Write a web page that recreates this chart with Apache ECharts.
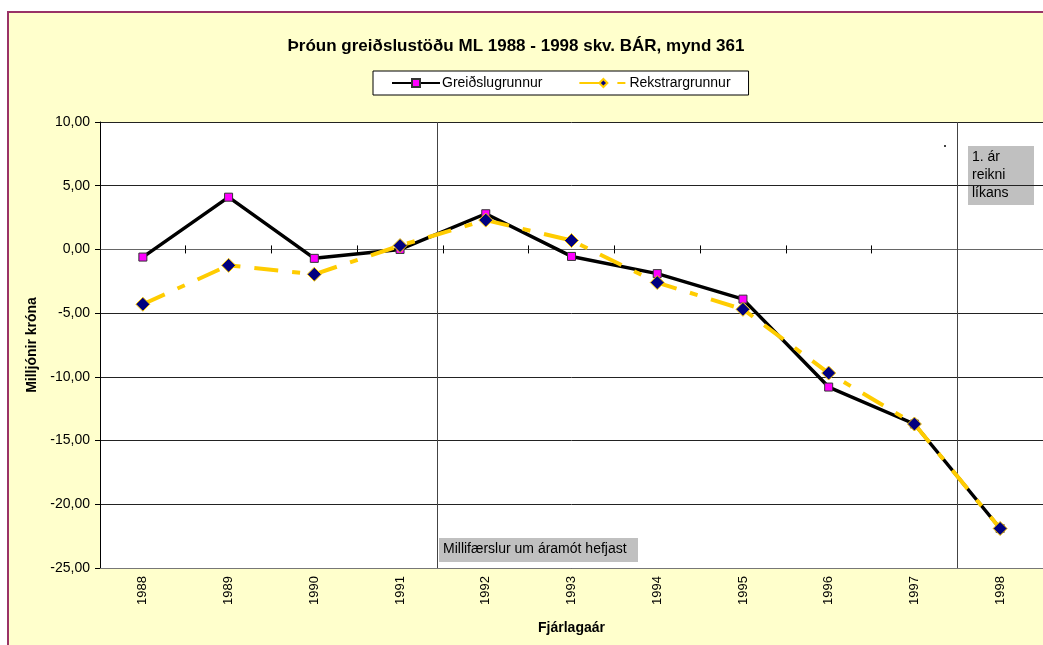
<!DOCTYPE html>
<html>
<head>
<meta charset="utf-8">
<script src="https://cdn.jsdelivr.net/npm/echarts@6/dist/echarts.min.js"></script>
<style>
html,body{margin:0;padding:0;background:#fff;}
#chart{width:1043px;height:645px;}
</style>
</head>
<body>
<div id="chart"></div>
<script>
const categories = ['1988','1989','1990','1991','1992','1993','1994','1995','1996','1997','1998'];
const greidslugrunnur = [-0.6, 4.1, -0.7, 0.0, 2.8, -0.55, -1.9, -3.9, -10.8, -13.7, -21.9];
const rekstrargrunnur = [-4.3, -1.25, -1.95, 0.3, 2.3, 0.7, -2.6, -4.7, -9.7, -13.7, -21.9];
const yTicks = {min: -25, max: 10, interval: 5};
const dividerPositions = [3.43, 9.5];
const titleText = 'Þróun greiðslustöðu ML 1988 - 1998 skv. BÁR, mynd 361';
const note1 = 'Millifærslur um áramót hefjast';
const note2 = '1. ár\nreikni\nlíkans';

const FONT = 'Liberation Sans, Arial, sans-serif';
const chart = echarts.init(document.getElementById('chart'), null, {renderer: 'canvas'});

chart.setOption({
  animation: false,
  backgroundColor: '#ffffff',
  textStyle: {fontFamily: FONT},
  title: {
    text: titleText,
    left: 511, top: 33, textAlign: 'center',
    textStyle: {fontSize: 17, fontWeight: 'bold', color: '#000', fontFamily: FONT}
  },
  legend: {
    left: 373, top: 71,
    backgroundColor: '#ffffff', borderColor: '#000', borderWidth: 1,
    padding: [5, 18, 5, 18],
    itemGap: 36, itemWidth: 48, itemHeight: 10,
    textStyle: {fontSize: 14, color: '#000', fontFamily: FONT, padding: [0, 0, 0, -3]},
    data: ['Greiðslugrunnur', 'Rekstrargrunnur']
  },
  grid: {left: 100, right: 0, top: 122, bottom: 77, show: true, backgroundColor: '#ffffff', borderWidth: 0},
  xAxis: [
    {
      type: 'category', data: categories, position: 'bottom',
      name: 'Fjárlagaár', nameLocation: 'middle', nameGap: 53,
      nameTextStyle: {fontSize: 14, fontWeight: 'bold', color: '#000', fontFamily: FONT},
      axisLine: {onZero: false, lineStyle: {color: '#777', width: 1}},
      axisTick: {show: false},
      axisLabel: {rotate: 90, fontSize: 13, color: '#000', margin: 8, fontFamily: FONT},
      splitLine: {show: false}
    },
    {
      type: 'category', data: categories, position: 'bottom',
      axisLine: {onZero: true, onZeroAxisIndex: 0, lineStyle: {color: '#666', width: 1}},
      axisTick: {show: true, length: 4, lineStyle: {color: '#000'}},
      axisLabel: {show: false}
    },
    {
      type: 'category', data: categories, position: 'bottom',
      axisLine: {onZero: true, onZeroAxisIndex: 0, show: false},
      axisTick: {show: true, inside: true, length: 4, lineStyle: {color: '#000'}},
      axisLabel: {show: false}
    },
    {
      type: 'value', min: -0.5, max: 10.5, show: false
    }
  ],
  yAxis: {
    type: 'value', min: yTicks.min, max: yTicks.max, interval: yTicks.interval,
    name: 'Milljónir króna', nameLocation: 'middle', nameRotate: 90, nameGap: 61,
    nameTextStyle: {fontSize: 14, fontWeight: 'bold', color: '#000', fontFamily: FONT},
    axisLine: {show: true, onZero: false, lineStyle: {color: '#000', width: 1}},
    axisTick: {show: true, length: 5, lineStyle: {color: '#000'}},
    axisLabel: {
      fontSize: 14, color: '#000', margin: 10, fontFamily: FONT,
      formatter: v => v.toFixed(2).replace('.', ',')
    },
    splitLine: {show: true, lineStyle: {color: '#222', width: 1}}
  },
  series: [
    {
      name: 'Greiðslugrunnur', type: 'line', data: greidslugrunnur,
      xAxisIndex: 0, z: 4,
      lineStyle: {color: '#000', width: 3.5},
      itemStyle: {color: '#FF00FF', borderColor: '#333', borderWidth: 1},
      symbol: 'rect', symbolSize: 8, showAllSymbol: true
    },
    {
      name: 'Rekstrargrunnur', type: 'line', data: rekstrargrunnur,
      xAxisIndex: 0, z: 5,
      lineStyle: {color: '#FFCC00', width: 4, type: [24, 14, 8, 14]},
      itemStyle: {color: '#000080', borderColor: '#FFCC00', borderWidth: 1},
      symbol: 'diamond', symbolSize: 14, showAllSymbol: true
    },
    {
      name: 'dividers', type: 'line', data: [], xAxisIndex: 3, yAxisIndex: 0,
      silent: true, z: 3,
      markLine: {
        silent: true, symbol: 'none', label: {show: false},
        lineStyle: {color: '#444', width: 1, type: 'solid'},
        data: dividerPositions.map(p => ({xAxis: p}))
      }
    }
  ],
  graphic: [
    {
      type: 'rect', z: -100, zlevel: 0, silent: true,
      shape: {x: 8, y: 12, width: 1100, height: 700},
      style: {fill: '#FFFFCC', stroke: '#993366', lineWidth: 2}
    },
    {
      type: 'group', left: 439, top: 538, z: 10,
      children: [
        {type: 'rect', shape: {x: 0, y: 0, width: 199, height: 24}, style: {fill: '#C0C0C0'}},
        {type: 'text', x: 4, y: 4, style: {text: note1, font: '14px ' + FONT, fill: '#000'}}
      ]
    },
    {
      type: 'group', left: 968, top: 146, z: 10,
      children: [
        {type: 'rect', shape: {x: 0, y: 0, width: 66, height: 59}, style: {fill: '#C0C0C0'}},
        {type: 'text', x: 4, y: 2, style: {text: note2, font: '14px ' + FONT, fill: '#000', lineHeight: 18}}
      ]
    },
    {
      type: 'rect', left: 944, top: 145, z: 10,
      shape: {x: 0, y: 0, width: 2, height: 2}, style: {fill: '#444'}
    }
  ]
});
</script>
</body>
</html>
